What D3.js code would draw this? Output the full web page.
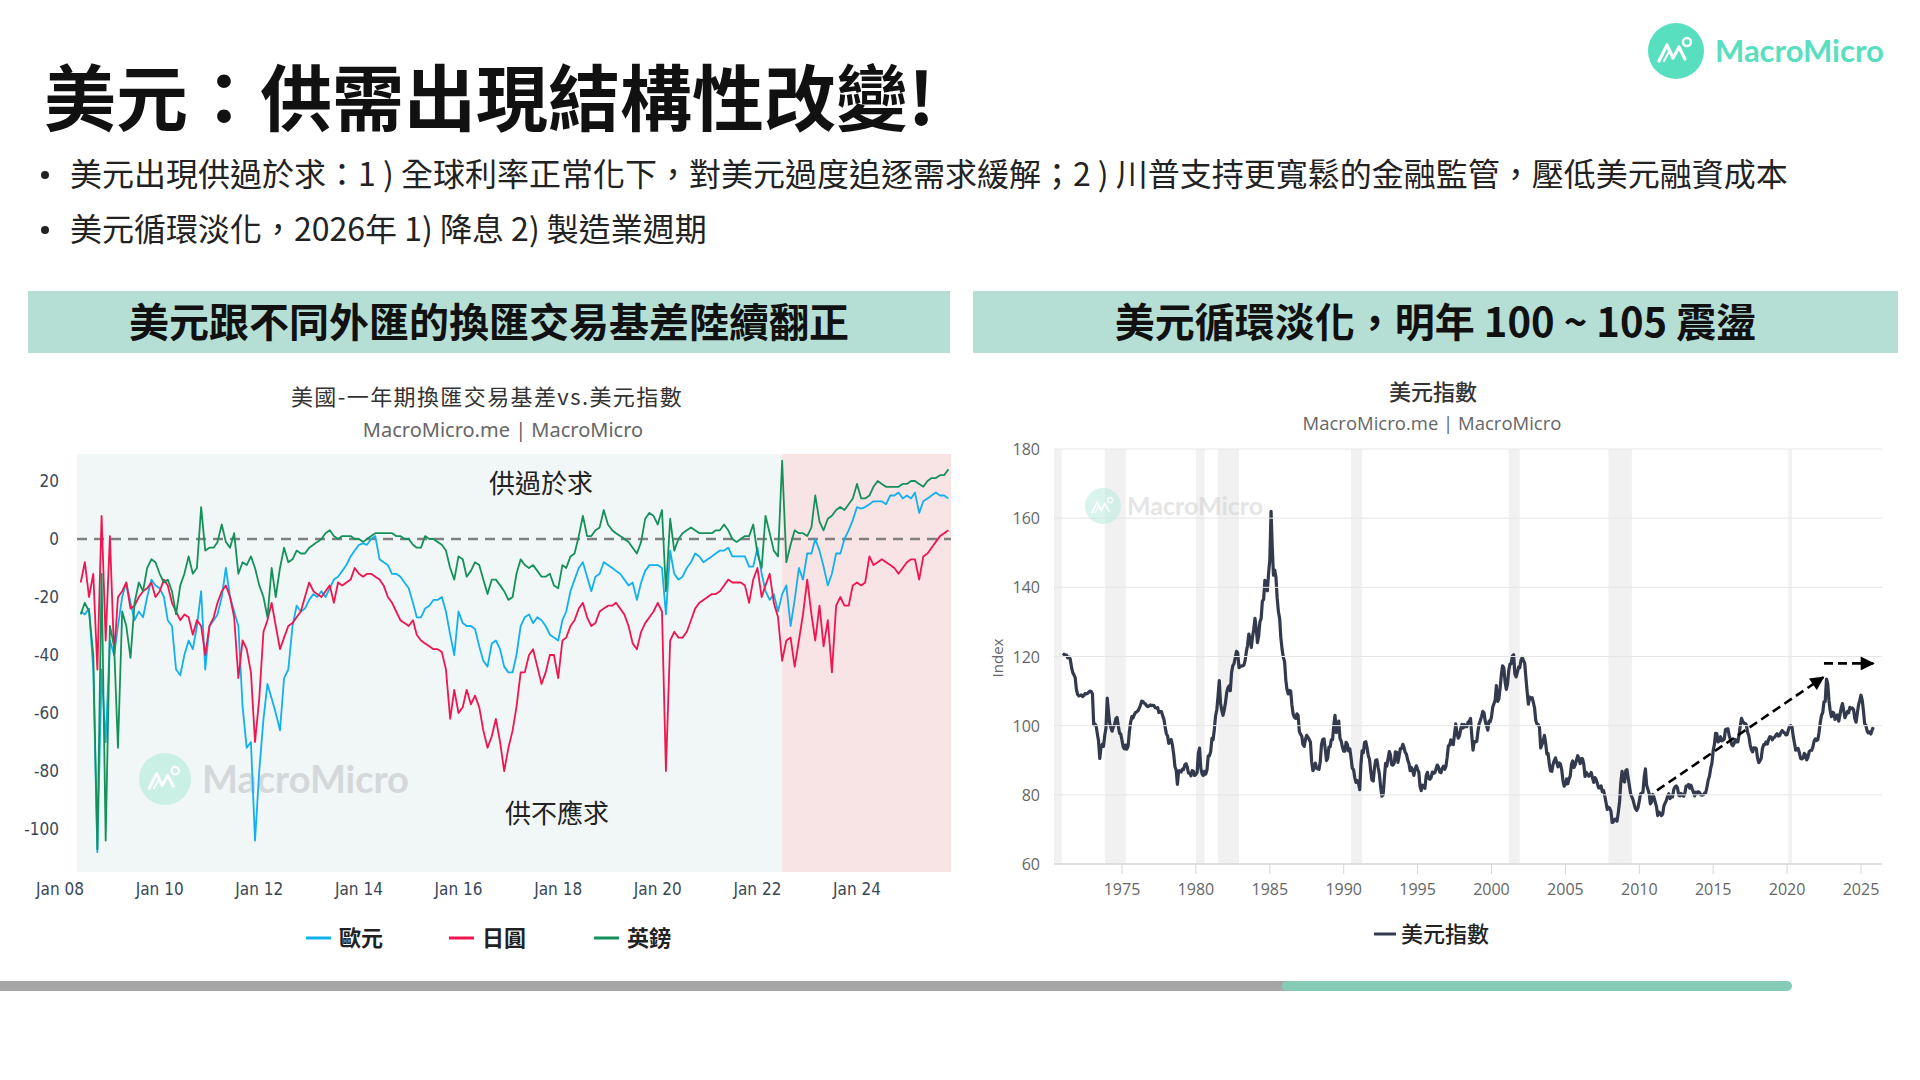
<!DOCTYPE html>
<html>
<head>
<meta charset="utf-8">
<script src="https://cdn.jsdelivr.net/npm/d3@7"></script>
<style>
  html, body { margin: 0; padding: 0; background: #fff; }
  svg { display: block; }
</style>
</head>
<body>
<div id="slide"></div>
<script>
const WIDTH = 1920;
const HEIGHT = 1080;
const CJK = '"Noto Sans CJK TC", "Noto Sans CJK SC", sans-serif';
const NARROW = '"Liberation Sans Narrow", "DejaVu Sans Condensed", "Liberation Sans", sans-serif';

// ---- left chart: US 1y cross-currency basis (bp), monthly from Jun 2008 ----
const basisStart = new Date(2008, 5, 1);
const eurBasis = [
  -25,-26,-24,-45,-108,-45,-70,-35,-40,-30,
  -20,-15,-22,-28,-25,-27,-20,-14,-16,-17,
  -20,-28,-30,-45,-47,-40,-35,-38,-30,-18,
  -45,-30,-28,-26,-20,-10,-20,-25,-30,-58,
  -72,-70,-104,-80,-62,-50,-55,-60,-66,-48,
  -45,-30,-23,-25,-24,-21,-19,-20,-18,-20,
  -17,-14,-13,-11,-9,-6,-4,-2,-1.5,-2,
  0,1,-7,-8,-9,-12,-12,-13,-15,-17,
  -22,-27,-27,-24,-23,-21,-21,-20,-25,-33,
  -40,-25,-29,-30,-30,-31,-37,-42,-44,-36,
  -35,-38,-44,-46,-46,-40,-30,-27,-26,-29,
  -27,-28,-30,-33,-34,-35,-28,-25,-18,-14,
  -10,-8,-13,-18,-13,-12,-8,-9,-10,-11,
  -12,-14,-16,-15,-21,-15,-11,-9,-9,-9,
  -10,-26,-4,-12,-14,-13,-10,-8,-5,-6,
  -8,-7,-6,-5,-4,-4,-3,-6,-6,-6,
  -6,-9.5,-9.5,-3,-12,-18,-21,-19,-25,-19,
  -16,-30,-21,-10,-14,-5,-5,0,-4,-9.5,
  -16,-12,-5,-5,0,3,6.5,11,10.5,11,
  12,13,13,13,12,15,15,16,14,15,
  14,16,9,13,14,15,16,15,15,14
];
const jpyBasis = [
  -15,-8,-20,-12,-45,8,-35,1,-40,-20,
  -18,-15,-24,-23,-20,-18,-17,-15,-20,-18,
  -14,-16,-22,-25,-28,-26,-27,-33,-28,-30,
  -40,-30,-27,-22,-18,-16,-20,-27,-48,-35,
  -38,-46,-70,-55,-32,-28,-22,-30,-38,-34,
  -30,-29,-27,-25,-20,-15,-18,-19,-20,-18,
  -16,-22,-15,-16,-15,-14,-10,-12,-13,-12,
  -12,-13,-14,-16,-20,-22,-25,-28,-29,-30,
  -28,-33,-35,-36,-37,-38,-38,-39,-45,-62,
  -52,-60,-58,-52,-57,-54,-58,-66,-72,-68,
  -62,-70,-80,-72,-66,-58,-46,-46,-40,-38,
  -44,-50,-46,-40,-40,-48,-35,-34,-30,-28,
  -24,-22,-27,-30,-29,-25,-24,-23,-23,-22,
  -24,-26,-30,-36,-38,-32,-29,-27,-25,-22,
  -25,-80,-35,-32,-34,-34,-32,-28,-24,-22,
  -21,-20,-19,-19,-18,-16,-14,-15,-15,-15,
  -16,-22,-14,-10,-20,-16,-12,-22,-27,-42,
  -35,-34,-44,-35,-26,-14,-26,-35,-23,-37,
  -28,-46,-23,-20,-23,-23,-16,-15,-16,-15,
  -6,-9,-8,-7,-8,-9,-10,-12,-10,-8,
  -7,-7,-14,-6,-5,-3,-1,1,2,3
];
const gbpBasis = [
  -26,-22,-25,-40,-107,-12,-104,-30,-37,-72,
  -25,-30,-41,-22,-15,-18,-10,-7,-8,-12,
  -15,-14,-18,-26,-16,-12,-6,-12,-10,11,
  -4,-3,-3,-1,5,-1,-3,2,-12,-8,
  -9,-6,-10,-16,-20,-27,-10,-20,-10,-3,
  -8,-7,-4,-5,-5,-3,-2,-1,0,2,
  3,1,0,1,1,1,0,0,-1,0,
  1,2,2,2,2,2,1,1,0,0,
  -2,-3,-3,1,0,0,-1,-2,-4,-10,
  -14,-6,-7,-13,-11,-8,-9,-14,-19,-14,
  -14,-16,-18,-21,-20,-12,-7,-9,-10,-9,
  -11,-13,-13,-12,-16,-17,-9,-10,-6,-5,
  1,8,1,1,3,4,10,5,3,2,
  1,0,-1,-3,-5,-1,7,9,8,5,
  10,-18,7,-4,0,2,3,4,3,2,
  2,2,2,3,3,5,3,0,-1,0,
  1,1,5,-5,-10,8,2,-4,-6,27,
  -8,-2,3,2,2,1,4,15,6,3,
  7,8,10,11,10,12,14,19,14,14,
  15,18,20,19,18,18,18,18,19,19,
  20,20,19,18,20,21,21,22,22,24
];
const basisSeries = [
  { name: "歐元", color: "#12b0ee", values: eurBasis },
  { name: "日圓", color: "#f0144f", values: jpyBasis },
  { name: "英鎊", color: "#14915a", values: gbpBasis }
];
const basisYTicks = [-100, -80, -60, -40, -20, 0, 20];
const basisXTicks = ["2008-01-01", "2010-01-01", "2012-01-01", "2014-01-01", "2016-01-01", "2018-01-01", "2020-01-01", "2022-01-01", "2024-01-01"];
const shadeFrom = "2022-07-01";

// ---- right chart: US dollar index, monthly from Jan 1971 ----
const dxyStart = new Date(1971, 0, 1);
const dxy = [
  120.9,120.6,120.5,120.4,119.6,119.8,119.3,117.0,115.4,114.7,113.9,110.5,
  109.0,108.6,108.7,108.9,108.4,108.7,109.3,109.2,109.3,109.7,110.0,109.9,
  109.1,100.3,100.5,100.0,97.7,95.5,90.5,93.8,94.6,94.0,97.2,99.3,
  108.0,104.0,100.8,99.5,98.4,99.6,100.3,102.0,102.4,100.0,97.8,97.6,
  95.7,93.8,93.3,94.4,93.2,94.1,98.1,100.9,102.6,102.2,103.2,103.8,
  104.0,104.3,105.0,105.9,107.1,107.0,106.5,106.3,105.7,105.5,105.7,106.0,
  105.8,105.9,105.8,105.2,105.1,105.2,103.8,104.1,104.1,102.9,101.9,99.7,
  97.7,97.0,94.9,95.5,96.0,94.3,91.8,88.2,87.2,83.0,86.9,86.9,
  86.6,87.4,87.3,88.6,89.0,88.1,86.3,86.3,85.5,87.0,86.8,85.6,
  85.9,86.5,92.0,93.5,87.7,86.1,85.6,86.8,86.0,87.2,91.2,91.3,
  92.5,96.3,95.9,98.9,102.8,104.6,108.5,113.0,106.5,104.5,103.0,104.5,
  106.6,109.6,110.9,111.5,110.1,115.4,117.3,118.0,119.7,121.5,121.0,116.8,
  117.0,117.3,117.3,117.5,118.8,121.4,123.2,126.5,125.1,122.6,125.7,127.9,
  131.0,128.1,124.0,126.0,130.0,131.0,136.0,136.5,142.0,141.0,139.0,144.0,
  148.0,162.0,152.0,143.5,145.0,143.0,137.0,133.0,131.0,125.4,122.0,119.8,
  118.5,113.1,110.5,109.2,110.2,110.0,106.0,103.3,102.4,102.1,103.4,103.0,
  98.3,97.5,97.0,94.5,94.0,96.1,97.2,96.7,96.0,95.3,89.6,87.0,
  87.6,89.2,87.8,87.5,87.4,89.6,94.5,96.0,96.2,93.3,89.9,90.6,
  93.8,93.9,95.9,96.0,100.2,103.0,98.0,99.6,101.3,96.3,95.5,93.8,
  92.6,92.6,95.2,94.6,92.7,93.3,90.8,87.7,87.3,85.0,83.6,84.1,
  83.4,81.5,88.6,92.7,92.2,95.2,95.4,93.6,91.3,90.3,86.8,84.3,
  84.0,87.8,90.0,90.1,87.9,86.0,82.3,79.6,80.0,84.6,89.1,88.3,
  90.4,92.5,91.6,88.7,88.6,89.1,92.4,92.3,89.4,91.2,93.4,93.4,
  94.6,93.6,92.3,91.7,90.1,89.1,87.0,87.9,87.0,85.6,87.5,88.4,
  87.4,86.5,82.5,81.2,82.8,82.5,81.9,85.5,86.5,84.8,84.5,85.0,
  86.6,86.2,86.4,87.5,88.6,88.0,86.6,86.4,87.6,88.3,87.4,88.2,
  90.9,94.2,94.3,95.9,94.7,94.5,97.5,100.5,97.8,96.4,97.0,99.0,
  100.4,99.3,100.3,99.7,99.7,101.0,101.3,102.1,97.2,92.9,95.4,95.3,
  95.4,98.4,100.5,101.5,102.7,104.1,103.7,101.2,100.0,98.7,101.3,101.2,
  102.5,105.4,106.3,107.4,111.6,107.0,107.7,110.8,114.7,117.3,116.7,112.8,
  110.5,112.1,115.8,117.8,117.9,120.1,120.5,115.0,114.1,115.4,116.9,116.8,
  119.0,119.7,118.9,118.1,113.8,109.8,106.2,108.3,107.8,108.1,106.7,105.1,
  101.4,100.4,100.3,99.5,93.6,94.5,95.6,97.2,94.9,91.8,91.9,88.8,
  86.9,86.8,88.8,89.9,90.7,89.3,88.1,89.2,88.9,87.3,84.2,82.5,
  83.1,84.6,83.2,84.6,85.5,88.9,89.8,87.9,88.7,90.0,91.3,90.5,
  89.0,90.5,90.4,88.8,85.3,86.5,86.0,85.4,85.7,86.5,84.9,83.6,
  85.0,84.4,83.3,82.0,82.0,82.6,80.9,81.3,79.7,77.8,75.8,76.4,
  76.1,75.2,72.0,72.2,72.9,73.0,72.4,75.0,78.1,83.5,86.8,84.2,
  83.7,87.0,87.3,84.9,82.6,80.3,79.4,78.5,77.0,75.9,75.5,76.3,
  78.2,80.3,80.5,80.7,85.0,87.5,82.8,81.6,80.4,77.4,77.9,80.1,
  79.2,77.8,76.6,74.0,75.0,74.7,74.0,74.4,76.8,77.6,78.4,79.6,
  80.3,78.9,79.6,79.4,81.5,82.3,82.6,82.1,79.9,79.7,80.4,79.9,
  79.6,80.5,82.5,82.5,83.0,81.9,82.8,81.7,80.7,79.7,80.8,80.4,
  80.9,80.6,80.0,79.9,80.0,80.5,80.6,82.3,84.3,85.4,87.7,89.1,
  92.8,94.6,97.8,97.7,95.3,95.6,96.8,95.6,95.8,96.1,98.9,99.0,
  99.1,97.1,96.1,94.6,94.2,94.8,96.0,95.3,95.3,97.4,100.0,102.1,
  101.2,100.7,100.7,100.2,98.1,97.0,94.6,93.1,92.4,93.6,93.6,93.3,
  90.6,89.3,89.8,90.5,93.3,94.5,94.5,95.3,94.7,96.0,96.8,96.7,
  95.9,96.5,96.7,97.3,97.7,97.0,97.1,98.0,98.6,98.2,97.9,97.3,
  97.4,98.7,99.8,100.0,99.7,96.9,95.0,92.9,93.2,93.4,92.1,90.5,
  90.4,90.6,92.0,91.5,90.1,90.9,92.5,92.8,92.9,93.9,95.6,96.2,
  95.7,96.0,98.1,100.9,103.0,103.8,106.9,107.0,113.5,112.2,107.3,104.4,
  102.6,103.9,103.6,101.8,102.7,103.1,101.3,103.2,105.2,106.4,104.4,102.3,
  103.2,104.1,103.7,105.3,104.9,105.1,104.6,102.1,101.0,103.5,106.0,107.3,
  108.8,107.3,104.5,100.6,100.1,98.5,97.9,98.2,97.6,98.7,99.6
];
const dxyYTicks = [60, 80, 100, 120, 140, 160, 180];
const dxyXTicks = [1975, 1980, 1985, 1990, 1995, 2000, 2005, 2010, 2015, 2020, 2025];
const recessions = [
  ["1969-12-01", "1970-11-30"], ["1973-11-01", "1975-03-31"], ["1980-01-01", "1980-07-31"],
  ["1981-07-01", "1982-11-30"], ["1990-07-01", "1991-03-31"], ["2001-03-01", "2001-11-30"],
  ["2007-12-01", "2009-06-30"], ["2020-02-01", "2020-04-30"]
];
const trendArrows = [
  [["2011-03-15", 81.3], ["2022-06-15", 114.0]],
  [["2022-07-01", 118.0], ["2025-11-01", 118.0]]
];

const parse = d3.utcParse("%Y-%m-%d");

const svg = d3.select("#slide")
  .append("svg")
  .attr("width", WIDTH)
  .attr("height", HEIGHT)
  .attr("viewBox", [0, 0, WIDTH, HEIGHT]);

const defs = svg.append("defs");
defs.append("clipPath").attr("id", "clip-left")
  .append("rect").attr("x", 77).attr("y", 454).attr("width", 874).attr("height", 418);
defs.append("clipPath").attr("id", "clip-right")
  .append("rect").attr("x", 1054).attr("y", 449).attr("width", 828).attr("height", 415);
defs.append("marker")
  .attr("id", "arrowhead")
  .attr("viewBox", "0 0 10 10")
  .attr("refX", 9).attr("refY", 5)
  .attr("markerWidth", 16).attr("markerHeight", 14)
  .attr("markerUnits", "userSpaceOnUse")
  .attr("orient", "auto")
  .append("path").attr("d", "M0,0 L10,5 L0,10 Z").attr("fill", "#000");

// ---- slide header ----
svg.append("text")
  .attr("x", 44).attr("y", 125)
  .attr("font-family", CJK).attr("font-weight", 700).attr("font-size", 72)
  .attr("fill", "#111")
  .text("美元：供需出現結構性改變!");

const bullets = [
  "美元出現供過於求：1 ) 全球利率正常化下，對美元過度追逐需求緩解；2 ) 川普支持更寬鬆的金融監管，壓低美元融資成本",
  "美元循環淡化，2026年 1) 降息 2) 製造業週期"
];
bullets.forEach((t, i) => {
  const y = 186 + i * 55;
  svg.append("circle").attr("cx", 45).attr("cy", y - 11).attr("r", 4).attr("fill", "#222");
  svg.append("text")
    .attr("x", 70).attr("y", y)
    .attr("font-family", CJK).attr("font-size", 32)
    .attr("fill", "#222")
    .text(t);
});

// logo
function drawLogo(g, r, fillCircle, fillText, fontSize, textDx) {
  g.append("circle").attr("r", r).attr("fill", fillCircle);
  const s = r / 28;
  g.append("path")
    .attr("d", `M${-17*s},${10*s} L${-9*s},${-6*s} L${-3*s},${7*s} L${3*s},${-4*s} L${9*s},${8*s}`)
    .attr("fill", "none").attr("stroke", "#fff").attr("stroke-width", 3.2 * s)
    .attr("stroke-linejoin", "round").attr("stroke-linecap", "round");
  g.append("path")
    .attr("d", `M${-12*s},${10*s} L${-6*s},${-1*s}`)
    .attr("fill", "none").attr("stroke", "#fff").attr("stroke-width", 2 * s).attr("stroke-linecap", "round");
  g.append("circle").attr("cx", 11 * s).attr("cy", -9 * s).attr("r", 4 * s)
    .attr("fill", "none").attr("stroke", "#fff").attr("stroke-width", 2.4 * s);
  g.append("text")
    .attr("x", textDx).attr("y", fontSize * 0.36)
    .attr("font-family", "Lato, 'Open Sans', sans-serif").attr("font-weight", 700)
    .attr("font-size", fontSize).attr("fill", fillText)
    .text("MacroMicro");
}
drawLogo(svg.append("g").attr("transform", "translate(1676,51)"), 28, "#57dfc0", "#57dfc0", 31, 39);

// section bars
const bars = [
  { x: 28, w: 922, text: "美元跟不同外匯的換匯交易基差陸續翻正" },
  { x: 973, w: 925, text: "美元循環淡化，明年 100 ~ 105 震盪" }
];
bars.forEach(b => {
  svg.append("rect").attr("x", b.x).attr("y", 291).attr("width", b.w).attr("height", 62).attr("fill", "#b5dfd5");
  svg.append("text")
    .attr("x", b.x + b.w / 2).attr("y", 337)
    .attr("text-anchor", "middle")
    .attr("font-family", CJK).attr("font-weight", 700).attr("font-size", 40)
    .attr("fill", "#111")
    .text(b.text);
});

// ---- left chart ----
const xL = d3.scaleTime().domain([new Date(2008, 0, 1), new Date(2024, 0, 1)]).range([60, 857]);
const yL = d3.scaleLinear().domain([-100, 20]).range([829, 481]);
const left = svg.append("g");

left.append("text")
  .attr("x", 487).attr("y", 405).attr("text-anchor", "middle")
  .attr("font-family", CJK).attr("font-size", 22).attr("letter-spacing", 1.4).attr("fill", "#333")
  .text("美國-一年期換匯交易基差vs.美元指數");
left.append("text")
  .attr("x", 503).attr("y", 437).attr("text-anchor", "middle")
  .attr("font-family", "'Noto Sans', sans-serif").attr("font-size", 20).attr("fill", "#666")
  .text("MacroMicro.me | MacroMicro");

left.append("rect").attr("x", 77).attr("y", 454).attr("width", 874).attr("height", 418).attr("fill", "#f1f7f7");
left.append("rect")
  .attr("x", xL(parse(shadeFrom))).attr("y", 454)
  .attr("width", 951 - xL(parse(shadeFrom))).attr("height", 418)
  .attr("fill", "#f8e3e5");

// watermark
const wmL = left.append("g").attr("transform", "translate(165,779)").attr("opacity", 0.9);
drawLogo(wmL, 26, "#c6efe3", "#d2d5d7", 38, 37);

left.append("line")
  .attr("x1", 77).attr("x2", 951).attr("y1", yL(0)).attr("y2", yL(0))
  .attr("stroke", "#808080").attr("stroke-width", 2.5).attr("stroke-dasharray", "10,7");

const plotL = left.append("g").attr("clip-path", "url(#clip-left)");
const lineL = d3.line()
  .x((d, i) => xL(d3.timeMonth.offset(basisStart, i)))
  .y(d => yL(d));
basisSeries.forEach(s => {
  plotL.append("path")
    .datum(s.values)
    .attr("d", lineL)
    .attr("fill", "none")
    .attr("stroke", s.color)
    .attr("stroke-width", 1.8)
    .attr("stroke-linejoin", "round");
});

left.append("text")
  .attr("x", 541).attr("y", 493).attr("text-anchor", "middle")
  .attr("font-family", CJK).attr("font-size", 26).attr("fill", "#222")
  .text("供過於求");
left.append("text")
  .attr("x", 557).attr("y", 823).attr("text-anchor", "middle")
  .attr("font-family", CJK).attr("font-size", 26).attr("fill", "#222")
  .text("供不應求");

left.selectAll(".ytickL")
  .data(basisYTicks)
  .enter().append("text")
  .attr("x", 59).attr("y", d => yL(d) + 6)
  .attr("text-anchor", "end")
  .attr("font-family", NARROW).attr("font-size", 17).attr("fill", "#3a4858")
  .text(d => d);
const fmtL = d3.timeFormat("%b %y");
left.selectAll(".xtickL")
  .data(basisXTicks)
  .enter().append("text")
  .attr("x", d => xL(d3.timeParse("%Y-%m-%d")(d)))
  .attr("y", 895)
  .attr("text-anchor", "middle")
  .attr("font-family", NARROW).attr("font-size", 17).attr("fill", "#3a4858")
  .text(d => fmtL(d3.timeParse("%Y-%m-%d")(d)));

const legendXs = [306, 449, 594];
basisSeries.forEach((s, i) => {
  const lg = left.append("g").attr("transform", `translate(${legendXs[i]},938)`);
  lg.append("line").attr("x1", 0).attr("x2", 25).attr("stroke", s.color).attr("stroke-width", 3);
  lg.append("text").attr("x", 33).attr("y", 8)
    .attr("font-family", CJK).attr("font-weight", 700).attr("font-size", 22).attr("fill", "#222")
    .text(s.name);
});

// ---- right chart ----
const xR = d3.scaleTime().domain([new Date(1975, 0, 1), new Date(2025, 0, 1)]).range([1122, 1861]);
const yR = d3.scaleLinear().domain([60, 180]).range([864, 449]);
const right = svg.append("g");

right.append("text")
  .attr("x", 1433).attr("y", 400).attr("text-anchor", "middle")
  .attr("font-family", CJK).attr("font-weight", 500).attr("font-size", 22).attr("fill", "#333")
  .text("美元指數");
right.append("text")
  .attr("x", 1432).attr("y", 430).attr("text-anchor", "middle")
  .attr("font-family", "'Open Sans', sans-serif").attr("font-size", 18.5).attr("fill", "#666")
  .text("MacroMicro.me | MacroMicro");

const plotR = right.append("g").attr("clip-path", "url(#clip-right)");
plotR.selectAll(".rec")
  .data(recessions)
  .enter().append("rect")
  .attr("x", d => xR(parse(d[0])))
  .attr("width", d => xR(parse(d[1])) - xR(parse(d[0])))
  .attr("y", 449).attr("height", 415)
  .attr("fill", "#f1f1f1");

right.selectAll(".gridR")
  .data(dxyYTicks)
  .enter().append("line")
  .attr("x1", 1054).attr("x2", 1882)
  .attr("y1", d => yR(d)).attr("y2", d => yR(d))
  .attr("stroke", d => d === 60 ? "#d6d6d6" : "#e6e6e6").attr("stroke-width", d => d === 60 ? 1.5 : 1);

right.selectAll(".xtickmarkR")
  .data(dxyXTicks)
  .enter().append("line")
  .attr("x1", d => xR(new Date(d, 0, 1))).attr("x2", d => xR(new Date(d, 0, 1)))
  .attr("y1", 864).attr("y2", 874)
  .attr("stroke", "#d6d6d6");

const wmR = right.append("g").attr("transform", "translate(1103,506)").attr("opacity", 0.55);
drawLogo(wmR, 18, "#b9ecdf", "#d0d0d0", 25, 24);

const lineR = d3.line()
  .x((d, i) => xR(d3.timeMonth.offset(dxyStart, i)))
  .y(d => yR(d));
plotR.append("path")
  .datum(dxy)
  .attr("d", lineR)
  .attr("fill", "none")
  .attr("stroke", "#333a4d")
  .attr("stroke-width", 3.2)
  .attr("stroke-linejoin", "round");

trendArrows.forEach(a => {
  right.append("line")
    .attr("x1", xR(parse(a[0][0]))).attr("y1", yR(a[0][1]))
    .attr("x2", xR(parse(a[1][0]))).attr("y2", yR(a[1][1]))
    .attr("stroke", "#000").attr("stroke-width", 2.6)
    .attr("stroke-dasharray", "9,5")
    .attr("marker-end", "url(#arrowhead)");
});

right.selectAll(".ytickR")
  .data(dxyYTicks)
  .enter().append("text")
  .attr("x", 1040).attr("y", d => yR(d) + 6)
  .attr("text-anchor", "end")
  .attr("font-family", "'Open Sans', sans-serif").attr("font-size", 16).attr("fill", "#666")
  .text(d => d);
right.selectAll(".xtickR")
  .data(dxyXTicks)
  .enter().append("text")
  .attr("x", d => xR(new Date(d, 0, 1))).attr("y", 895)
  .attr("text-anchor", "middle")
  .attr("font-family", "'Open Sans', sans-serif").attr("font-size", 16).attr("fill", "#666")
  .text(d => d);
right.append("text")
  .attr("transform", "translate(1003,658) rotate(-90)")
  .attr("text-anchor", "middle")
  .attr("font-family", "'Open Sans', sans-serif").attr("font-size", 15).attr("fill", "#666")
  .text("Index");

const lgR = right.append("g").attr("transform", "translate(1374,934)");
lgR.append("line").attr("x1", 0).attr("x2", 22).attr("stroke", "#333a4d").attr("stroke-width", 3);
lgR.append("text").attr("x", 27).attr("y", 8)
  .attr("font-family", CJK).attr("font-weight", 500).attr("font-size", 22).attr("fill", "#222")
  .text("美元指數");

// ---- bottom progress bar ----
svg.append("rect").attr("x", 0).attr("y", 981).attr("width", 1290).attr("height", 10).attr("fill", "#a6a6a6");
svg.append("rect").attr("x", 1282).attr("y", 981).attr("width", 510).attr("height", 10).attr("rx", 5).attr("fill", "#85cbb5");
</script>
</body>
</html>
